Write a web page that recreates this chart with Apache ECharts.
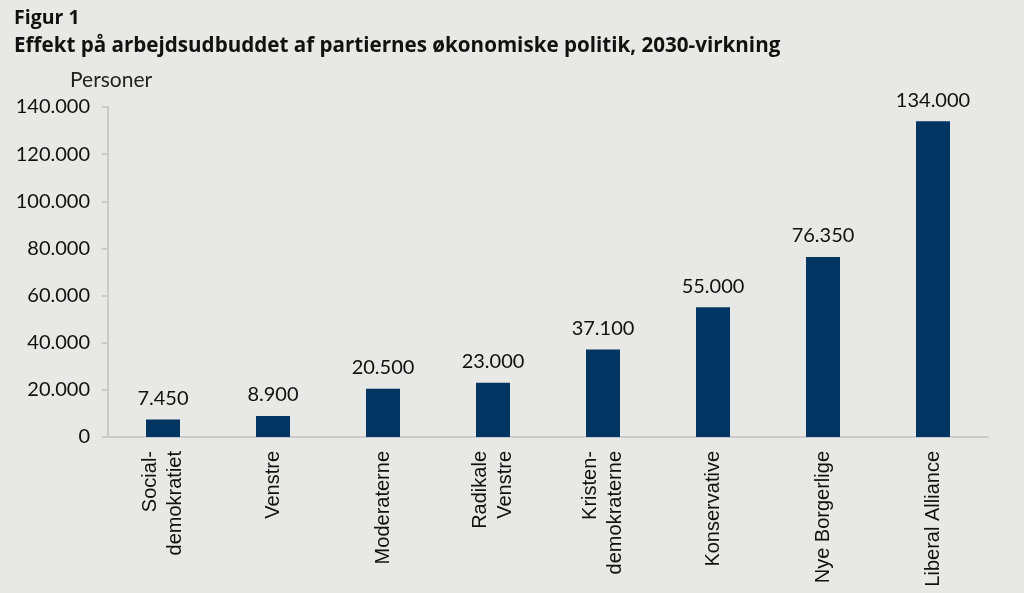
<!DOCTYPE html>
<html>
<head>
<meta charset="utf-8">
<script src="https://cdn.jsdelivr.net/npm/echarts@6/dist/echarts.min.js"></script>
<style>
  html, body { margin: 0; padding: 0; background: #e8e8e6; }
  #chart { width: 1024px; height: 593px; }
</style>
</head>
<body>
<div id="chart"></div>
<script>
// partier og effekt paa arbejdsudbuddet (personer)
var parties = ['Social-\ndemokratiet', 'Venstre', 'Moderaterne', 'Radikale\nVenstre',
  'Kristen-\ndemokraterne', 'Konservative', 'Nye Borgerlige', 'Liberal Alliance'];
var persons = [7450, 8900, 20500, 23000, 37100, 55000, 76350, 134000];

var font = 'Lato, "Open Sans", sans-serif';
var titleFont = '"Open Sans", Lato, sans-serif';
var catFont = '"Liberation Sans", Arial, sans-serif';

function dk(v) {
  return String(v).replace(/\B(?=(\d{3})+(?!\d))/g, '.');
}

var chart = echarts.init(document.getElementById('chart'));
chart.setOption({
  backgroundColor: '#e8e8e6',
  animation: false,
  title: [
    { text: 'Figur 1', left: 9, top: 3,
      textStyle: { fontFamily: titleFont, fontSize: 19.5, fontWeight: 'bold', color: '#111' } },
    { text: 'Effekt på arbejdsudbuddet af partiernes økonomiske politik, 2030-virkning', left: 9, top: 31,
      textStyle: { fontFamily: titleFont, fontSize: 20.6, fontWeight: 'bold', color: '#111' } },
    { text: 'Personer', left: 65, top: 65,
      textStyle: { fontFamily: font, fontSize: 21, fontWeight: 'normal', color: '#222' } }
  ],
  grid: { left: 108, right: 36, top: 107, bottom: 156 },
  xAxis: {
    type: 'category',
    data: parties,
    axisLine: { lineStyle: { color: '#cacaca', width: 2 } },
    axisTick: { show: false },
    axisLabel: {
      rotate: 90, interval: 0, margin: 14,
      fontFamily: catFont, fontSize: 20, color: '#111', lineHeight: 25
    }
  },
  yAxis: {
    type: 'value',
    min: 0, max: 140000, interval: 20000,
    axisLine: { show: true, lineStyle: { color: '#cacaca', width: 2 } },
    axisTick: { show: true, length: 6, lineStyle: { color: '#cacaca', width: 2 } },
    splitLine: { show: false },
    axisLabel: {
      margin: 18, fontFamily: font, fontSize: 20, color: '#111',
      formatter: function (v) { return dk(v); }
    }
  },
  series: [{
    type: 'bar',
    data: persons,
    barWidth: 34,
    itemStyle: { color: '#023562' },
    label: {
      show: true, position: 'top', distance: 11,
      fontFamily: font, fontSize: 20, color: '#111',
      formatter: function (p) { return dk(p.value); }
    }
  }]
});
</script>
</body>
</html>
